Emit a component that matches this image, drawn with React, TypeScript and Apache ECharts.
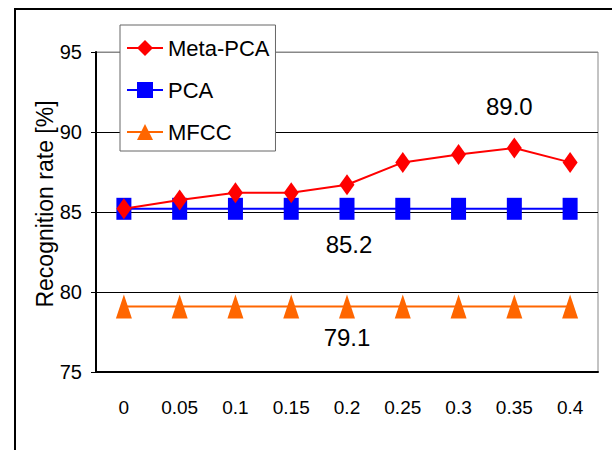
import React, { useEffect, useRef } from "react";
import * as echarts from "echarts";

const categories = ["0", "0.05", "0.1", "0.15", "0.2", "0.25", "0.3", "0.35", "0.4"];
const metaPCA = [85.2, 85.75, 86.2, 86.2, 86.7, 88.1, 88.6, 89.0, 88.1];
const pca = [85.2, 85.2, 85.2, 85.2, 85.2, 85.2, 85.2, 85.2, 85.2];
const mfcc = [79.1, 79.1, 79.1, 79.1, 79.1, 79.1, 79.1, 79.1, 79.1];
const yTicks = [75, 80, 85, 90, 95];
const seriesNames = ["Meta-PCA", "PCA", "MFCC"];
const annotations = [
  { series: 0, index: 7, text: "89.0" },
  { series: 1, index: 4, text: "85.2" },
  { series: 2, index: 4, text: "79.1" },
];

const FONT = "'Liberation Sans', Arial, Helvetica, sans-serif";

export default function App() {
  const ref = useRef<HTMLDivElement>(null);
  useEffect(() => {
    if (!ref.current) return;
    const chart = echarts.init(ref.current, undefined, { renderer: "svg" });
    const labelOffsets: Record<number, [number, number]> = { 0: [-5, -42], 1: [2, 36], 2: [0, 31] };
    const mk = (vals: number[], si: number) =>
      vals.map((v, i) => {
        const a = annotations.find((x) => x.series === si && x.index === i);
        if (!a) return v;
        return {
          value: v,
          label: {
            show: true,
            position: "inside",
            offset: labelOffsets[si],
            formatter: a.text,
            fontFamily: FONT,
            fontSize: 24,
            color: "#000",
          },
        };
      });
    const colors = ["#ff0000", "#0000ff", "#ff6600"];
    const symbols = ["diamond", "rect", "triangle"];
    const sizes = [[15, 21], [15, 22], [16, 24]];
    const values = [metaPCA, pca, mfcc];
    chart.setOption({
      animation: false,
      backgroundColor: "#fff",
      grid: {
        left: 96,
        right: 14,
        top: 52,
        bottom: 78,
        show: true,
        borderColor: "#888",
        borderWidth: 1,
        backgroundColor: "transparent",
      },
      legend: {
        orient: "vertical",
        left: 120,
        top: 25,
        data: seriesNames,
        backgroundColor: "#fff",
        borderColor: "#666",
        borderWidth: 1,
        padding: [12, 6, 8, 6],
        itemGap: 20,
        itemWidth: 36,
        itemHeight: 20,
        textStyle: { fontFamily: FONT, fontSize: 22, color: "#000" },
      },
      xAxis: {
        type: "category",
        data: categories,
        boundaryGap: true,
        axisLine: { lineStyle: { color: "#000", width: 2 } },
        axisTick: { inside: true, length: 8, lineStyle: { color: "#000" } },
        axisLabel: { interval: 0, margin: 26, fontFamily: FONT, fontSize: 19, color: "#000" },
        splitLine: { show: false },
      },
      yAxis: {
        type: "value",
        min: 75,
        max: 95,
        interval: 5,
        name: "Recognition rate [%]",
        nameLocation: "middle",
        nameGap: 40,
        nameMoveOverlap: false,
        nameTextStyle: {
          fontFamily: FONT,
          fontSize: 23,
          color: "#000",
          padding: [0, 0, 0, 16],
        },
        axisLine: { show: true, lineStyle: { color: "#000", width: 2 } },
        axisTick: { show: true, length: 5, lineStyle: { color: "#000" } },
        axisLabel: {
          margin: 14,
          fontFamily: FONT,
          fontSize: 20,
          color: "#000",
          formatter: (v: number) => (yTicks.includes(v) ? String(v) : ""),
        },
        splitLine: {
          show: true,
          lineStyle: { color: ["#000", "#000", "#000", "#000", "#888"], width: 1 },
        },
      },
      series: values.map((vals, si) => ({
        name: seriesNames[si],
        type: "line",
        data: mk(vals, si),
        symbol: symbols[si],
        symbolSize: sizes[si],
        itemStyle: { color: colors[si] },
        lineStyle: { color: colors[si], width: 2 },
        z: 3 - si + 2,
      })),
      graphic: [
        {
          type: "rect",
          shape: { x: 15, y: 9, width: 800, height: 700 },
          style: { fill: "none", stroke: "#000", lineWidth: 2 },
          silent: true,
          z: 100,
        },
      ],
    });
    return () => chart.dispose();
  }, []);
  return (
    <div
      ref={ref}
      style={{ position: "fixed", left: 0, top: 0, width: 612, height: 450 }}
    />
  );
}
